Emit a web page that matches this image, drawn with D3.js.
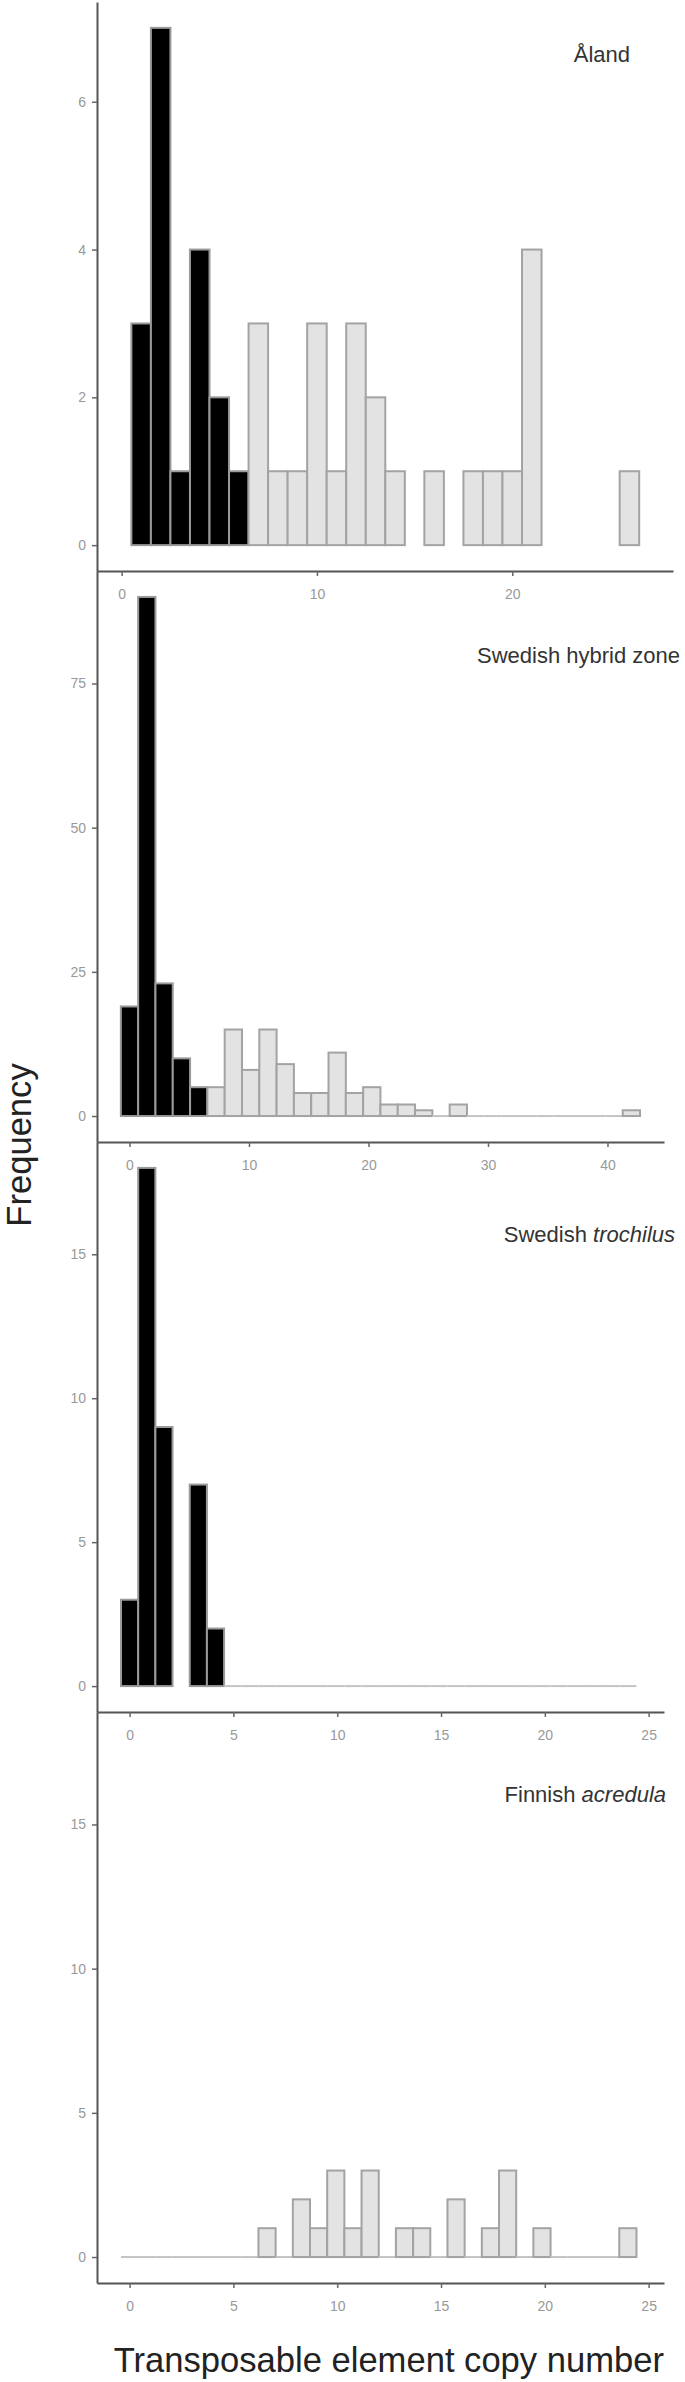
<!DOCTYPE html>
<html><head><meta charset="utf-8">
<script src="https://cdn.jsdelivr.net/npm/d3@7"></script>
<style>body{margin:0;background:#fff}</style>
</head><body>
<svg id="c" width="685" height="2382"></svg>
<script>
// ---------- data ----------
const panelNames = ["Åland", "Swedish hybrid zone", "Swedish |trochilus", "Finnish |acredula"];

// histogram bin specs: centre of first bin and bin width
const alandBins = {first: 1, width: 1};
const hybridBins = {first: 0, width: 42 / 29};
const trochilusBins = {first: 0, width: 24 / 29};
const acredulaBins = {first: 0, width: 24 / 29};

// counts (null = no bar drawn); second number = index of first bin of the series
const alandBlack = [3, 7, 1, 4, 2, 1];
const alandGrey = [3, 1, 1, 3, 1, 3, 2, 1, null, 1, null, 1, 1, 1, 4, null, null, null, null, 1];
const hybridBlack = [19, 90, 23, 10, 5];
const hybridGrey = [5, 15, 8, 15, 9, 4, 4, 11, 4, 5, 2, 2, 1, 0, 2, 0, 0, 0, 0, 0, 0, 0, 0, 0, 1];
const trochilusBlack = [3, 18, 9, null, 7, 2];
const trochilusGrey = [0, 0, 0, 0, 0, 0, 0, 0, 0, 0, 0, 0, 0, 0, 0, 0, 0, 0, 0, 0, 0, 0, 0, 0];
const acredulaBlack = [];
const acredulaGrey = [0, 0, 0, 0, 0, 0, 0, 0, 1, 0, 2, 1, 3, 1, 3, 0, 1, 1, 0, 2, 0, 1, 3, 0, 1, 0, 0, 0, 0, 1];

const alandStart = {black: 0, grey: 6};
const hybridStart = {black: 0, grey: 5};
const trochilusStart = {black: 0, grey: 6};
const acredulaStart = {black: 0, grey: 0};

const alandYTicks = [0, 2, 4, 6];
const hybridYTicks = [0, 25, 50, 75];
const trochilusYTicks = [0, 5, 10, 15];
const acredulaYTicks = [0, 5, 10, 15];

const alandXTicks = [0, 10, 20];
const hybridXTicks = [0, 10, 20, 30, 40];
const trochilusXTicks = [0, 5, 10, 15, 20, 25];
const acredulaXTicks = [0, 5, 10, 15, 20, 25];

const alandYDomain = [-0.35, 7.35];
const hybridYDomain = [-4.5, 94.5];
const trochilusYDomain = [-0.9, 18.9];
const acredulaYDomain = [-0.9, 18.9];

const alandXDomain = [-1.26, 28.23];
const hybridXDomain = [-2.72, 44.73];
const trochilusXDomain = [-1.57, 25.74];
const acredulaXDomain = [-1.57, 25.74];

const yLabel = "Frequency";
const xLabel = "Transposable element copy number";

// ---------- layout ----------
const panels = [
  {name: panelNames[0], bins: alandBins, black: alandBlack, grey: alandGrey, start: alandStart,
   yt: alandYTicks, xt: alandXTicks, yd: alandYDomain, xd: alandXDomain,
   top: 2, bottom: 571, right: 673, lab: [630, 62]},
  {name: panelNames[1], bins: hybridBins, black: hybridBlack, grey: hybridGrey, start: hybridStart,
   yt: hybridYTicks, xt: hybridXTicks, yd: hybridYDomain, xd: hybridXDomain,
   top: 571, bottom: 1142, right: 664, lab: [680, 663]},
  {name: panelNames[2], bins: trochilusBins, black: trochilusBlack, grey: trochilusGrey, start: trochilusStart,
   yt: trochilusYTicks, xt: trochilusXTicks, yd: trochilusYDomain, xd: trochilusXDomain,
   top: 1142, bottom: 1712, right: 664, lab: [675, 1242]},
  {name: panelNames[3], bins: acredulaBins, black: acredulaBlack, grey: acredulaGrey, start: acredulaStart,
   yt: acredulaYTicks, xt: acredulaXTicks, yd: acredulaYDomain, xd: acredulaXDomain,
   top: 1712, bottom: 2283, right: 664, lab: [666, 1802]}
];
const left = 97;
const font = "'Liberation Sans', Arial, Helvetica, sans-serif";

const svg = d3.select("#c");
svg.append("rect").attr("width", 685).attr("height", 2382).attr("fill", "#fff");

panels.forEach(p => {
  const x = d3.scaleLinear().domain(p.xd).range([left, p.right]);
  const y = d3.scaleLinear().domain(p.yd).range([p.bottom, p.top]);
  const g = svg.append("g");

  const series = [];
  p.black.forEach((v, i) => series.push({v, bin: p.start.black + i, fill: "#000000", stroke: "#9a9a9a"}));
  p.grey.forEach((v, i) => series.push({v, bin: p.start.grey + i, fill: "#e3e3e3", stroke: "#a3a3a3"}));

  series.forEach(d => {
    if (d.v === null) return;
    const c = p.bins.first + d.bin * p.bins.width;
    const x0 = x(c - p.bins.width / 2), x1 = x(c + p.bins.width / 2);
    if (d.v === 0) {
      g.append("line").attr("x1", x0).attr("x2", x1).attr("y1", y(0)).attr("y2", y(0))
        .attr("stroke", "#c4c4c4").attr("stroke-width", 2);
    } else {
      g.append("rect").attr("x", x0).attr("width", x1 - x0)
        .attr("y", y(d.v)).attr("height", y(0) - y(d.v))
        .attr("fill", d.fill).attr("stroke", d.stroke).attr("stroke-width", 2);
    }
  });

  const ya = g.append("g").attr("transform", `translate(${left},0)`)
    .call(d3.axisLeft(y).tickValues(p.yt).tickSize(5).tickSizeOuter(0).tickPadding(6));
  const xa = g.append("g").attr("transform", `translate(0,${p.bottom})`)
    .call(d3.axisBottom(x).tickValues(p.xt).tickSize(5).tickSizeOuter(0).tickPadding(13));
  [ya, xa].forEach(a => {
    a.select(".domain").attr("stroke", "#555").attr("stroke-width", 2);
    a.selectAll(".tick line").attr("stroke", "#666").attr("stroke-width", 1.5);
    a.selectAll(".tick text").attr("fill", "#999").style("font-family", font).style("font-size", "14px");
  });

  const parts = p.name.split("|");
  const t = g.append("text").attr("x", p.lab[0]).attr("y", p.lab[1]).attr("text-anchor", "end")
    .style("font-family", font).style("font-size", "22px").attr("fill", "#333");
  t.append("tspan").text(parts[0]);
  if (parts[1]) t.append("tspan").style("font-style", "italic").text(parts[1]);
});

svg.append("text").attr("transform", "translate(31,1145) rotate(-90)").attr("text-anchor", "middle")
  .style("font-family", font).style("font-size", "34.6px").attr("fill", "#222").text(yLabel);
svg.append("text").attr("x", 664).attr("y", 2372).attr("text-anchor", "end")
  .style("font-family", font).style("font-size", "34.6px").attr("fill", "#222").text(xLabel);
</script>
</body></html>
